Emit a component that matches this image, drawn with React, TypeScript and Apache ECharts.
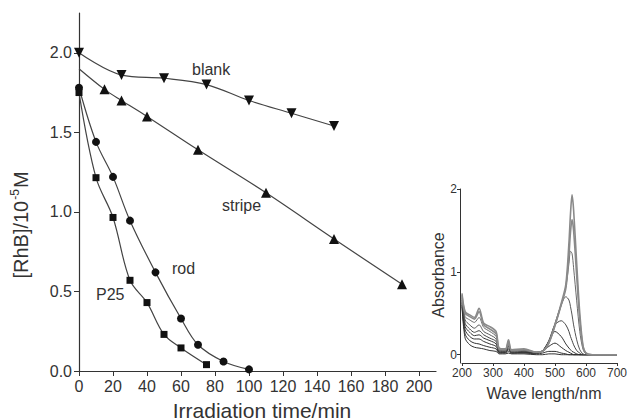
import { useEffect, useRef } from "react";
import * as echarts from "echarts";

// ---- main plot data ----
const timeTicks = [0, 20, 40, 60, 80, 100, 120, 140, 160, 180, 200];
const concTicks = [0, 0.5, 1.0, 1.5, 2.0];

const blankTime = [0, 25, 50, 75, 100, 125, 150];
const blankConc = [2.0, 1.86, 1.84, 1.8, 1.7, 1.62, 1.54];

const stripeTime = [0, 15, 25, 40, 70, 110, 150, 190];
const stripeConc = [1.9, 1.77, 1.7, 1.6, 1.39, 1.12, 0.83, 0.545];

const rodTime = [0, 10, 20, 30, 45, 60, 70, 85, 100];
const rodConc = [1.78, 1.44, 1.22, 0.945, 0.62, 0.33, 0.165, 0.06, 0.01];

const p25Time = [0, 10, 20, 30, 40, 50, 60, 75];
const p25Conc = [1.75, 1.215, 0.965, 0.57, 0.43, 0.23, 0.145, 0.04];

// ---- inset spectra ----
const waveTicks = [200, 300, 400, 500, 600, 700];
const absTicks = [0, 1, 2];
const wavelengths = [200, 210, 225, 240, 255, 270, 290, 310, 320, 340, 350, 360, 400, 440, 460, 480, 500, 520, 535, 545, 550, 555, 560, 570, 580, 590, 600, 620, 700];
const spec1 = [0.74, 0.52, 0.48, 0.45, 0.56, 0.38, 0.34, 0.28, 0.08, 0.07, 0.18, 0.06, 0.07, 0.03, 0.04, 0.14, 0.36, 0.62, 0.85, 1.35, 1.7, 1.93, 1.75, 1.1, 0.5, 0.12, 0.02, 0, 0];
const spec2 = [0.72, 0.5, 0.46, 0.43, 0.52, 0.36, 0.31, 0.25, 0.07, 0.06, 0.16, 0.05, 0.06, 0.03, 0.04, 0.14, 0.35, 0.6, 0.8, 1.2, 1.48, 1.63, 1.5, 0.95, 0.42, 0.1, 0.02, 0, 0];
const spec3 = [0.7, 0.46, 0.42, 0.39, 0.45, 0.33, 0.28, 0.22, 0.06, 0.05, 0.14, 0.05, 0.05, 0.03, 0.04, 0.15, 0.36, 0.6, 0.82, 1.1, 1.25, 1.22, 1.05, 0.65, 0.28, 0.07, 0.01, 0, 0];
const spec4 = [0.68, 0.42, 0.36, 0.32, 0.36, 0.28, 0.24, 0.19, 0.05, 0.05, 0.12, 0.04, 0.05, 0.03, 0.05, 0.16, 0.38, 0.6, 0.7, 0.66, 0.58, 0.48, 0.36, 0.18, 0.06, 0.01, 0, 0, 0];
const spec5 = [0.66, 0.38, 0.31, 0.27, 0.29, 0.24, 0.2, 0.16, 0.04, 0.04, 0.1, 0.03, 0.04, 0.03, 0.05, 0.17, 0.36, 0.41, 0.36, 0.28, 0.22, 0.17, 0.12, 0.05, 0.02, 0, 0, 0, 0];
const spec6 = [0.64, 0.34, 0.27, 0.23, 0.24, 0.2, 0.17, 0.13, 0.03, 0.03, 0.08, 0.03, 0.03, 0.02, 0.05, 0.16, 0.28, 0.22, 0.13, 0.08, 0.06, 0.04, 0.03, 0.01, 0, 0, 0, 0, 0];
const spec7 = [0.62, 0.3, 0.22, 0.19, 0.19, 0.16, 0.13, 0.1, 0.03, 0.03, 0.06, 0.02, 0.03, 0.02, 0.04, 0.1, 0.14, 0.09, 0.05, 0.03, 0.02, 0.01, 0, 0, 0, 0, 0, 0, 0];
const spec8 = [0.6, 0.25, 0.17, 0.14, 0.13, 0.11, 0.09, 0.07, 0.02, 0.02, 0.04, 0.02, 0.02, 0.01, 0.02, 0.04, 0.04, 0.02, 0.01, 0, 0, 0, 0, 0, 0, 0, 0, 0, 0];
const spec9 = [0.58, 0.2, 0.12, 0.09, 0.08, 0.07, 0.05, 0.04, 0.01, 0.01, 0.02, 0.01, 0.01, 0, 0, 0.01, 0.01, 0, 0, 0, 0, 0, 0, 0, 0, 0, 0, 0, 0];
const spectra = [spec1, spec2, spec3, spec4, spec5, spec6, spec7, spec8, spec9];
const spectraColors = ["#8a8a8a", "#8a8a8a", "#6a6a6a", "#555", "#444", "#333", "#333", "#333", "#333"];

const FONT = "'Liberation Sans', Arial, sans-serif";
const INK = "#333";

const zip = (xs: number[], ys: number[]) => xs.map((x, i) => [x, ys[i]]);

export default function App() {
  const ref = useRef<HTMLDivElement>(null);
  useEffect(() => {
    if (!ref.current) return;
    const chart = echarts.init(ref.current, undefined, { renderer: "svg" });

    const mainLine = (
      name: string,
      xs: number[],
      ys: number[],
      symbol: string,
      size: number,
      rotate = 0,
      hideFirst = false
    ) => ({
      name,
      type: "line",
      xAxisIndex: 0,
      yAxisIndex: 0,
      data: zip(xs, ys).map((p, i) => (hideFirst && i === 0 ? { value: p, symbol: "none" } : p)),
      smooth: 0.35,
      symbol,
      symbolSize: size,
      symbolRotate: rotate,
      showSymbol: true,
      lineStyle: { color: "#444", width: 1.2 },
      itemStyle: { color: "#111" },
    });

    chart.setOption({
      animation: false,
      textStyle: { fontFamily: FONT },
      grid: [
        { left: 79, top: 13, width: 357, height: 358 },
        { left: 462, top: 189, width: 155, height: 174 },
      ],
      xAxis: [
        {
          gridIndex: 0,
          type: "value",
          min: 0,
          max: 210,
          splitLine: { show: false },
          axisLine: { lineStyle: { color: INK, width: 1.2 } },
          axisTick: { length: 5, lineStyle: { color: INK }, customValues: timeTicks },
          axisLabel: { customValues: timeTicks, fontSize: 16, color: INK, margin: 7 },
        },
        {
          gridIndex: 1,
          type: "value",
          min: 200,
          max: 700,
          splitLine: { show: false },
          axisLine: { onZero: false, lineStyle: { color: INK, width: 1 } },
          axisTick: { length: 3, lineStyle: { color: INK }, customValues: waveTicks },
          axisLabel: { customValues: waveTicks, fontSize: 12, color: INK, margin: 4 },
        },
      ],
      yAxis: [
        {
          gridIndex: 0,
          type: "value",
          min: 0,
          max: 2.25,
          splitLine: { show: false },
          axisLine: { show: true, lineStyle: { color: INK, width: 1.2 } },
          axisTick: { show: true, length: 5, lineStyle: { color: INK }, customValues: concTicks },
          axisLabel: {
            customValues: concTicks,
            fontSize: 16,
            color: INK,
            margin: 7,
            formatter: (v: number) => v.toFixed(1),
          },
        },
        {
          gridIndex: 1,
          type: "value",
          min: -0.1,
          max: 2,
          offset: 2,
          splitLine: { show: false },
          axisLine: { show: true, onZero: false, lineStyle: { color: INK, width: 1 } },
          axisTick: { show: true, length: 3, lineStyle: { color: INK }, customValues: absTicks },
          axisLabel: { customValues: absTicks, fontSize: 12, color: INK, margin: 3 },
        },
      ],
      series: [
        mainLine("blank", blankTime, blankConc, "triangle", 10, 180),
        mainLine("stripe", stripeTime, stripeConc, "triangle", 10, 0, true),
        mainLine("rod", rodTime, rodConc, "circle", 8),
        mainLine("P25", p25Time, p25Conc, "rect", 7),
        ...spectra.map((s, i) => ({
          name: "spectrum " + (i + 1),
          type: "line",
          xAxisIndex: 1,
          yAxisIndex: 1,
          data: zip(wavelengths, s),
          smooth: 0.3,
          showSymbol: false,
          symbol: "none",
          lineStyle: { color: spectraColors[i], width: i < 2 ? 1.6 : 1 },
          z: 10 - i,
        })),
      ],
      graphic: [
        { type: "text", x: 192, y: 69, style: { text: "blank", font: `16px ${FONT}`, fill: INK, verticalAlign: "middle" } },
        { type: "text", x: 222, y: 205, style: { text: "stripe", font: `16px ${FONT}`, fill: INK, verticalAlign: "middle" } },
        { type: "text", x: 172, y: 268, style: { text: "rod", font: `16px ${FONT}`, fill: INK, verticalAlign: "middle" } },
        { type: "text", x: 96, y: 294, style: { text: "P25", font: `16px ${FONT}`, fill: INK, verticalAlign: "middle" } },
        {
          type: "text",
          x: 262,
          y: 410,
          style: { text: "Irradiation time/min", font: `21px ${FONT}`, fill: INK, align: "center", verticalAlign: "middle" },
        },
        {
          type: "text",
          x: 20,
          y: 225,
          rotation: Math.PI / 2,
          style: {
            text: "{a|[RhB]/10}{s|-5}{a|M}",
            align: "center",
            verticalAlign: "middle",
            fill: INK,
            rich: {
              a: { fontSize: 20, fontFamily: FONT, fill: INK, lineHeight: 22, verticalAlign: "bottom" },
              s: { fontSize: 12, fontFamily: FONT, fill: INK, lineHeight: 22, verticalAlign: "top", padding: [0, 1, 0, 1] },
            },
          },
        },
        {
          type: "text",
          x: 438,
          y: 275,
          rotation: Math.PI / 2,
          style: { text: "Absorbance", font: `16px ${FONT}`, fill: INK, align: "center", verticalAlign: "middle" },
        },
        {
          type: "text",
          x: 544,
          y: 393,
          style: { text: "Wave length/nm", font: `16px ${FONT}`, fill: INK, align: "center", verticalAlign: "middle" },
        },
      ],
    });
    return () => chart.dispose();
  }, []);
  return <div ref={ref} style={{ position: "fixed", left: 0, top: 0, width: 630, height: 420, background: "#fff" }} />;
}
